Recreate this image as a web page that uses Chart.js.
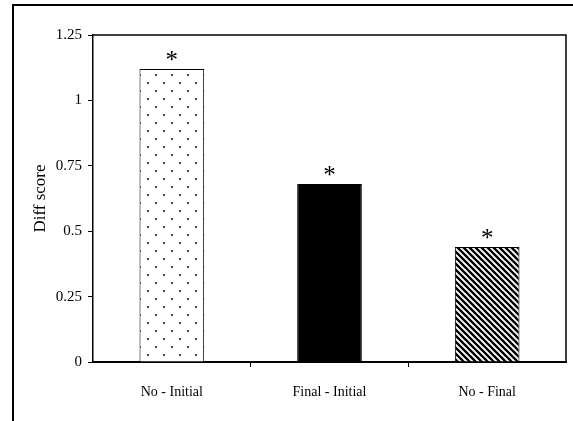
<!DOCTYPE html>
<html>
<head>
<meta charset="utf-8">
<script src="https://cdn.jsdelivr.net/npm/chart.js@4.4.1/dist/chart.umd.min.js"></script>
<style>
  html, body { margin: 0; padding: 0; background: #fff; }
  #wrap { width: 573px; height: 421px; }
</style>
</head>
<body>
<div id="wrap"><canvas id="diffChart"></canvas></div>
<script>
const categories = ['No - Initial', 'Final - Initial', 'No - Final']
const diffScores = [1.12, 0.68, 0.44]
const starLabels = ['*', '*', '*']
const yTicks = [0, 0.25, 0.5, 0.75, 1, 1.25]

// dotted fill for the first bar
function dotPattern() {
    const c = document.createElement('canvas')
    c.width = 16; c.height = 16
    const g = c.getContext('2d')
    g.fillStyle = '#fff'
    g.fillRect(0, 0, 16, 16)
    g.fillStyle = '#444'
    g.fillRect(3, 2, 2, 2)
    g.fillRect(11, 10, 2, 2)
    return g.createPattern(c, 'repeat')
}

// diagonal hatch (top-left to bottom-right) for the last bar
function hatchPattern() {
    const s = 6
    const c = document.createElement('canvas')
    c.width = s; c.height = s
    const g = c.getContext('2d')
    g.fillStyle = '#fff'
    g.fillRect(0, 0, s, s)
    g.strokeStyle = '#000'
    g.lineWidth = 2.3
    g.beginPath()
    for (const k of [-s, 0, s]) {
        g.moveTo(k - 1, -1)
        g.lineTo(k + s + 1, s + 1)
    }
    g.stroke()
    return g.createPattern(c, 'repeat')
}

const frames = {
    id: 'frames',
    beforeDraw(chart) {
        const ctx = chart.ctx
        ctx.save()
        ctx.strokeStyle = '#000'
        ctx.lineWidth = 2
        ctx.strokeRect(13, 5, 700, 600)//outer box runs off the page
        ctx.restore()
    },
    afterDraw(chart) {
        const ctx = chart.ctx
        const a = chart.chartArea
        ctx.save()
        ctx.strokeStyle = '#000'
        ctx.lineWidth = 1.5
        ctx.beginPath()
        ctx.moveTo(a.left, a.top)
        ctx.lineTo(a.right, a.top)
        ctx.lineTo(a.right, a.bottom)
        ctx.stroke()

        // asterisks over bars
        ctx.fillStyle = '#000'
        ctx.font = '25px "Liberation Serif"'
        ctx.textAlign = 'center'
        ctx.textBaseline = 'alphabetic'
        chart.getDatasetMeta(0).data.forEach(function (bar, i) {
            ctx.fillText(starLabels[i], bar.x, bar.y - 1)
        })
        ctx.restore()
    }
}

Chart.defaults.font.family = '"Liberation Serif", "Times New Roman", serif'
Chart.defaults.color = '#000'

new Chart(document.getElementById('diffChart'), {
    type: 'bar',
    data: {
        labels: categories,
        datasets: [{
            data: diffScores,
            backgroundColor: [dotPattern(), '#000', hatchPattern()],
            borderColor: '#000',
            borderWidth: 1,
            barPercentage: 0.41,
            categoryPercentage: 1
        }]
    },
    options: {
        responsive: true,
        maintainAspectRatio: false,
        animation: false,
        events: [],
        layout: { padding: { left: 14, right: 7, top: 35, bottom: 0 } },
        plugins: {
            legend: { display: false },
            tooltip: { enabled: false }
        },
        scales: {
            x: {
                grid: {
                    drawOnChartArea: false,
                    tickLength: 5,
                    color: function (c) { return (c.index === 1 || c.index === 2) ? '#000' : 'rgba(0,0,0,0)' }
                },
                border: { color: '#000', width: 2 },
                ticks: { font: { size: 14 }, padding: 17, maxRotation: 0 },
                afterFit: function (axis) { axis.height = 59 }
            },
            y: {
                min: 0,
                max: 1.25,
                afterBuildTicks: function (axis) {
                    axis.ticks = yTicks.map(v => ({ value: v }))
                },
                grid: { drawOnChartArea: false, tickLength: 5, color: '#000' },
                border: { color: '#000', width: 1.5 },
                ticks: {
                    font: { size: 15 },
                    padding: 6,
                    callback: function (value) { return String(value) }
                },
                title: {
                    display: true,
                    text: 'Diff score',
                    font: { size: 17 },
                    padding: { top: 16, bottom: 0 }
                },
                afterFit: function (axis) { axis.width = 79 }
            }
        }
    },
    plugins: [frames]
})
</script>
</body>
</html>
